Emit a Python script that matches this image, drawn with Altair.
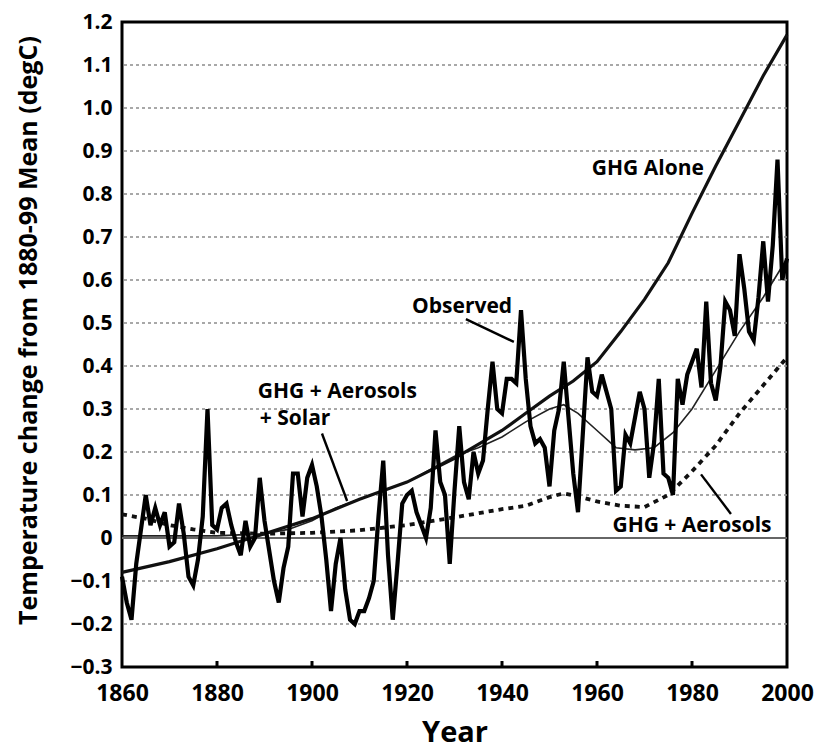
import altair as alt
import pandas as pd

FONT = "Open Sans"

# ---------------- data ----------------
obs_years = list(range(1860, 2001))
obs_values = [
    -0.09, -0.15, -0.19, -0.06, 0.02, 0.10, 0.03, 0.07, 0.03, 0.06,   # 1860s
    -0.02, -0.01, 0.08, 0.01, -0.09, -0.11, -0.05, 0.05, 0.30, 0.03,  # 1870s
    0.02, 0.07, 0.08, 0.03, -0.01, -0.04, 0.04, -0.02, 0.00, 0.14,    # 1880s
    0.04, -0.03, -0.10, -0.15, -0.07, -0.02, 0.15, 0.15, 0.05, 0.14,  # 1890s
    0.17, 0.12, 0.05, -0.05, -0.17, -0.06, 0.00, -0.12, -0.19, -0.20, # 1900s
    -0.17, -0.17, -0.14, -0.10, 0.05, 0.18, -0.04, -0.19, -0.06, 0.08,# 1910s
    0.10, 0.11, 0.06, 0.03, 0.00, 0.07, 0.25, 0.13, 0.10, -0.06,      # 1920s
    0.11, 0.26, 0.13, 0.09, 0.20, 0.15, 0.18, 0.30, 0.41, 0.30,       # 1930s
    0.29, 0.37, 0.37, 0.36, 0.53, 0.37, 0.26, 0.22, 0.23, 0.21,       # 1940s
    0.12, 0.25, 0.30, 0.41, 0.28, 0.15, 0.06, 0.24, 0.42, 0.34,       # 1950s
    0.33, 0.38, 0.34, 0.30, 0.11, 0.12, 0.24, 0.22, 0.28, 0.34,       # 1960s
    0.30, 0.14, 0.22, 0.37, 0.15, 0.14, 0.10, 0.37, 0.31, 0.38,       # 1970s
    0.41, 0.44, 0.35, 0.55, 0.36, 0.32, 0.40, 0.55, 0.53, 0.47,       # 1980s
    0.66, 0.58, 0.48, 0.46, 0.56, 0.69, 0.55, 0.68, 0.88, 0.60,       # 1990s
    0.65,                                                             # 2000
]

ghg_years = [1860, 1870, 1880, 1890, 1900, 1910, 1920, 1930, 1940, 1945, 1950,
             1955, 1960, 1965, 1970, 1975, 1980, 1985, 1990, 1995, 2000]
ghg_values = [-0.08, -0.055, -0.025, 0.01, 0.045, 0.09, 0.13, 0.185, 0.25, 0.29,
              0.33, 0.365, 0.41, 0.48, 0.555, 0.64, 0.755, 0.865, 0.97, 1.075, 1.17]

gas_years = [1860, 1870, 1880, 1890, 1895, 1900, 1905, 1910, 1915, 1920, 1925, 1930,
             1935, 1940, 1945, 1950, 1953, 1956, 1960, 1964, 1968, 1972, 1976,
             1980, 1985, 1990, 1995, 2000]
gas_values = [0.005, 0.005, 0.005, 0.01, 0.02, 0.04, 0.07, 0.09, 0.11, 0.13, 0.16, 0.19,
              0.21, 0.235, 0.27, 0.30, 0.31, 0.29, 0.25, 0.21, 0.205, 0.21, 0.245,
              0.30, 0.39, 0.48, 0.56, 0.65]

ga_years = [1860, 1865, 1870, 1875, 1880, 1890, 1900, 1910, 1920, 1930, 1940, 1945,
            1950, 1953, 1956, 1960, 1965, 1970, 1975, 1980, 1985, 1990, 1995, 2000]
ga_values = [0.055, 0.045, 0.03, 0.02, 0.012, 0.01, 0.012, 0.018, 0.03, 0.048, 0.067,
             0.075, 0.095, 0.104, 0.097, 0.085, 0.075, 0.072, 0.10, 0.155, 0.215,
             0.29, 0.355, 0.42]

# annotation labels and pointer lines
center_labels = ["GHG Alone", "Observed", "GHG + Aerosols"]
center_x = [1970.7, 1931.6, 1980.0]
center_y = [0.858, 0.537, 0.028]
left_labels = ["GHG + Aerosols", "+ Solar"]
left_x = [1888.6, 1889.0]
left_y = [0.34, 0.276]
ptr_x0 = [1932.4, 1902.1, 1981.9]
ptr_y0 = [0.509, 0.243, 0.148]
ptr_x1 = [1942.5, 1907.4, 1988.2]
ptr_y1 = [0.456, 0.086, 0.056]

x_ticks = [1860, 1880, 1900, 1920, 1940, 1960, 1980, 2000]
inner_ticks = [1880, 1900, 1920, 1940, 1960, 1980]
y_ticks = [-0.3, -0.2, -0.1, 0.0, 0.1, 0.2, 0.3, 0.4, 0.5, 0.6, 0.7, 0.8, 0.9,
           1.0, 1.1, 1.2]
y_grid = [-0.2, -0.1, 0.1, 0.2, 0.3, 0.4, 0.5, 0.6, 0.7, 0.8, 0.9, 1.0, 1.1]

# ---------------- tables ----------------
obs_df = pd.DataFrame({"year": obs_years, "value": obs_values})
ghg_df = pd.DataFrame({"year": ghg_years, "value": ghg_values})
gas_df = pd.DataFrame({"year": gas_years, "value": gas_values})
ga_df = pd.DataFrame({"year": ga_years, "value": ga_values})
clab_df = pd.DataFrame({"year": center_x, "value": center_y, "label": center_labels})
llab_df = pd.DataFrame({"year": left_x, "value": left_y, "label": left_labels})
ptr_df = pd.DataFrame({"year": ptr_x0, "value": ptr_y0, "year2": ptr_x1, "value2": ptr_y1})
grid_df = pd.DataFrame({"value": y_grid})
zero_df = pd.DataFrame({"value": [0.0]})
tick_df = pd.DataFrame({"year": inner_ticks, "value": [-0.3] * len(inner_ticks),
                        "value2": [-0.286] * len(inner_ticks)})

xscale = alt.Scale(domain=[1860, 2000], nice=False, zero=False)
yscale = alt.Scale(domain=[-0.3, 1.2], nice=False, zero=False)

xaxis = alt.Axis(title="Year", values=x_ticks, format="d", grid=False, ticks=False,
                 domain=False, labelFlush=False, labelPadding=15, titlePadding=13,
                 labelFontSize=23, titleFontSize=29)
yaxis = alt.Axis(title="Temperature change from 1880-99 Mean (degC)", values=y_ticks,
                 labelExpr="datum.value == 0 ? '0' : format(datum.value, '.1f')",
                 grid=False, ticks=False, domain=False, labelPadding=10,
                 titlePadding=28, labelFontSize=21, titleFontSize=25, titleY=308)


def X(field="year"):
    return alt.X(f"{field}:Q", scale=xscale, axis=xaxis)


def Y(field="value"):
    return alt.Y(f"{field}:Q", scale=yscale, axis=yaxis)


grid = alt.Chart(grid_df).mark_rule(color="#8c8c8c", strokeWidth=1.6,
                                    strokeDash=[3, 3]).encode(y=Y())
zero = alt.Chart(zero_df).mark_rule(color="#666666", strokeWidth=2).encode(y=Y())

ga_line = alt.Chart(ga_df).mark_line(color="#111", strokeWidth=3.8,
                                     strokeDash=[5, 5]).encode(x=X(), y=Y())
gas_line = alt.Chart(gas_df).mark_line(color="#222", strokeWidth=1.6).encode(x=X(), y=Y())
ghg_line = alt.Chart(ghg_df).mark_line(color="#111", strokeWidth=3.2).encode(x=X(), y=Y())
obs_line = alt.Chart(obs_df).mark_line(color="#000", strokeWidth=4.2,
                                       strokeJoin="miter").encode(x=X(), y=Y())

pointers = alt.Chart(ptr_df).mark_rule(color="#000", strokeWidth=2.4).encode(
    x=X(), x2="year2:Q", y=Y(), y2="value2:Q")

clabels = alt.Chart(clab_df).mark_text(font=FONT, fontSize=21, fontWeight="bold",
                                       align="center", baseline="middle",
                                       color="#000").encode(x=X(), y=Y(), text="label:N")
llabels = alt.Chart(llab_df).mark_text(font=FONT, fontSize=21, fontWeight="bold",
                                       align="left", baseline="middle",
                                       color="#000").encode(x=X(), y=Y(), text="label:N")

inner = alt.Chart(tick_df).mark_rule(color="#000", strokeWidth=3).encode(
    x=X(), y=Y(), y2="value2:Q")

chart = alt.layer(
    grid, zero, ga_line, gas_line, ghg_line, obs_line, pointers, clabels, llabels, inner
).properties(
    width=665,
    height=645,
    autosize=alt.AutoSizeParams(type="none"),
    padding={"left": 114, "top": 14, "right": 27, "bottom": 82},
).configure_view(
    stroke="#000", strokeWidth=3
).configure_axis(
    labelFont=FONT, titleFont=FONT, labelFontWeight="bold", titleFontWeight="bold",
    labelColor="#000", titleColor="#000"
)

chart.save("out.html", embed_options={"renderer": "svg", "actions": False})
